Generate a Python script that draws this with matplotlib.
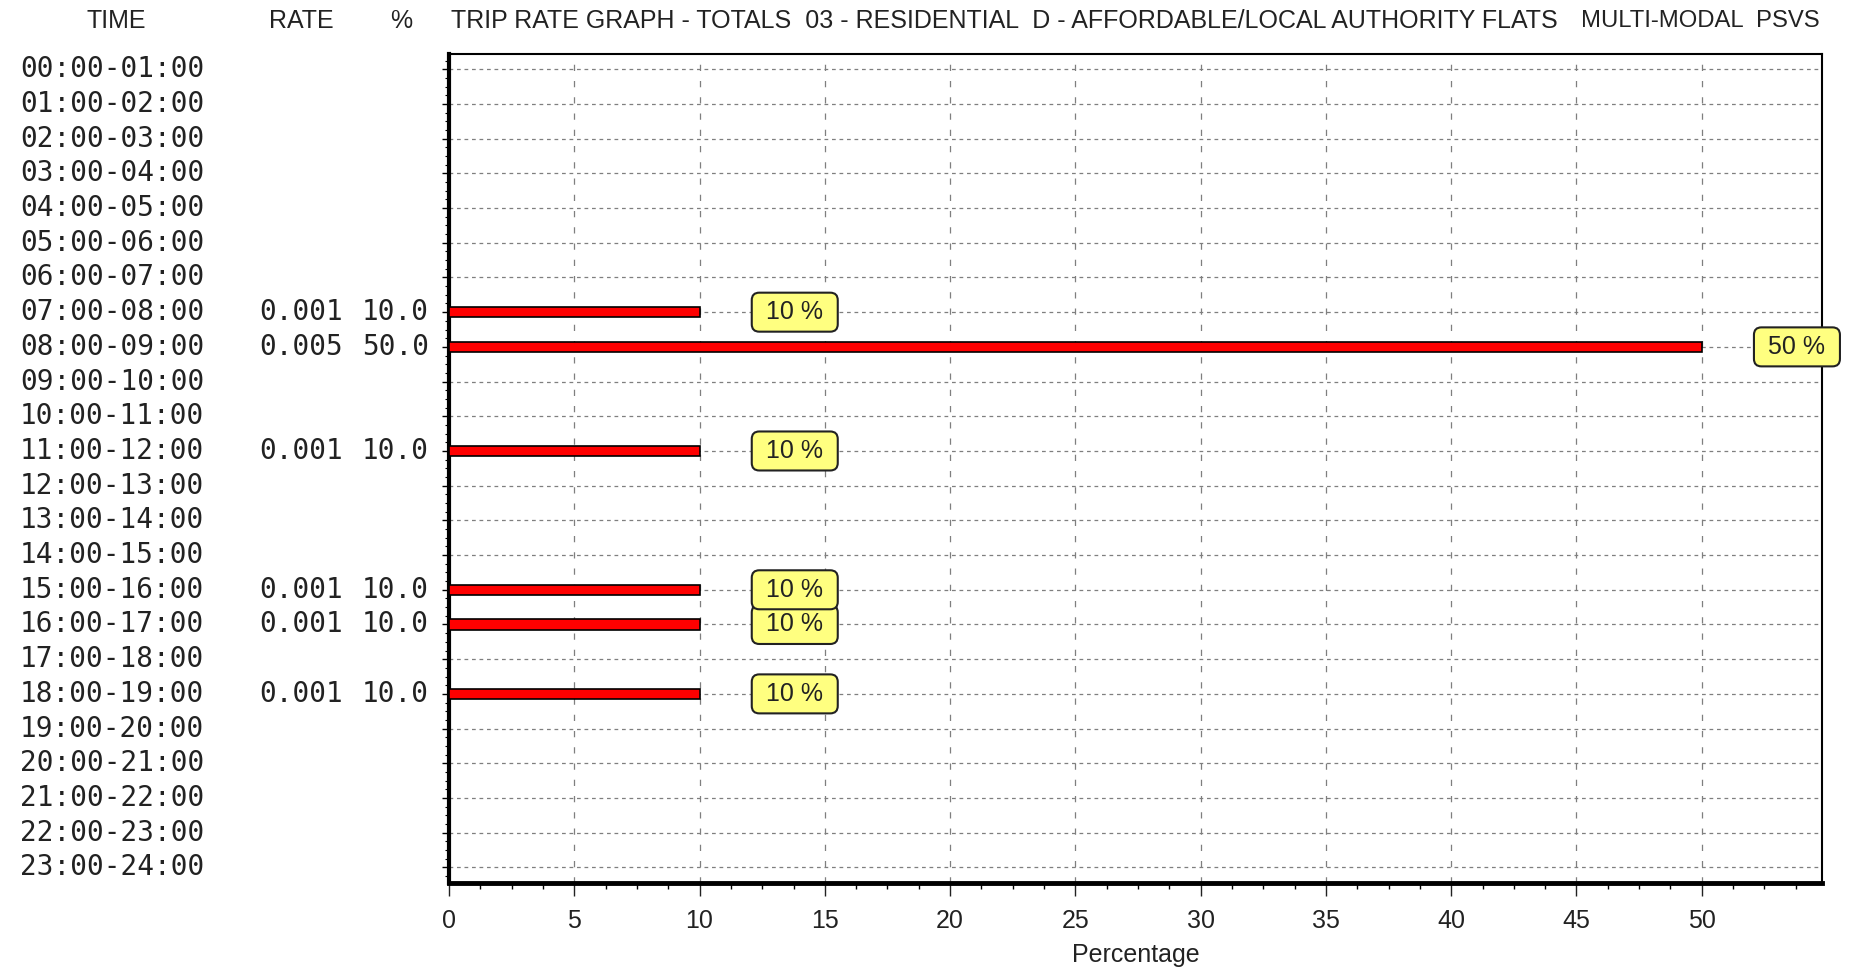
import matplotlib.pyplot as plt
from matplotlib.ticker import MultipleLocator

time_labels = [f"{h:02d}:00-{h + 1:02d}:00" for h in range(24)]
rates = [None, None, None, None, None, None, None, 0.001, 0.005, None, None, 0.001,
         None, None, None, 0.001, 0.001, None, 0.001, None, None, None, None, None]
percents = [None, None, None, None, None, None, None, 10.0, 50.0, None, None, 10.0,
            None, None, None, 10.0, 10.0, None, 10.0, None, None, None, None, None]

title_left = "TRIP RATE GRAPH - TOTALS  03 - RESIDENTIAL  D - AFFORDABLE/LOCAL AUTHORITY FLATS"
title_right = "MULTI-MODAL  PSVS"

W, H = 1868, 968
narrow = ["Liberation Sans Narrow", "Liberation Sans", "DejaVu Sans"]
mono = ["DejaVu Sans Mono"]
ink = "#222222"

fig = plt.figure(figsize=(W / 100, H / 100), dpi=100)
ax_left, ax_right, ax_top, ax_bottom = 449, 1822, 54, 883
ax = fig.add_axes([ax_left / W, 1 - ax_bottom / H,
                   (ax_right - ax_left) / W, (ax_bottom - ax_top) / H])

rows = list(range(len(time_labels)))

# grid
for r in rows:
    ax.axhline(r, color="#7f7f7f", lw=0.9, ls=(0, (3, 3)), zorder=1)
for v in range(5, 55, 5):
    ax.axvline(v, color="#7f7f7f", lw=0.9, ls=(0, (5, 8)), zorder=1)

# bars + labels
for r in reversed(rows):
    p = percents[r]
    if p is None:
        continue
    ax.barh(r, p, height=0.3, left=0, color="#ff0000", edgecolor="black",
            linewidth=1.2, zorder=3)
    ax.text(p + 3.8, r, f" {p:.0f} % ", ha="center", va="center",
            fontsize=18, family=narrow, color=ink, zorder=5 + (24 - r) * 0.01,
            bbox=dict(boxstyle="round,pad=0.3,rounding_size=0.3",
                      facecolor="#ffff80", edgecolor="#222222", linewidth=1.5))

ax.set_xlim(0, 54.8)
ax.set_ylim(23.45, -0.44)

ax.xaxis.set_major_locator(MultipleLocator(5))
ax.xaxis.set_minor_locator(MultipleLocator(1.25))
ax.yaxis.set_major_locator(MultipleLocator(1))
ax.yaxis.set_minor_locator(MultipleLocator(0.25))
ax.tick_params(axis="x", which="major", length=9, width=1, direction="out",
               labelsize=18, pad=10, colors=ink)
ax.tick_params(axis="x", which="minor", length=4, width=1, direction="out")
ax.tick_params(axis="y", which="major", length=5, width=1, labelleft=False)
ax.tick_params(axis="y", which="minor", length=3, width=0.8)
ax.set_xticks(range(0, 55, 5))
for lab in ax.get_xticklabels():
    lab.set_family(narrow)

ax.spines["left"].set_linewidth(3.0)
ax.spines["bottom"].set_linewidth(3.5)
ax.spines["top"].set_linewidth(1.5)
ax.spines["right"].set_linewidth(1.5)

ax.set_xlabel("Percentage", fontsize=18, family=narrow, color=ink, labelpad=7)

# left-hand columns
ytr = ax.get_yaxis_transform()
span = ax_right - ax_left


def ax_x(px):
    return (px - ax_left) / span


for r in rows:
    ax.text(ax_x(204), r, time_labels[r], transform=ytr, ha="right", va="center",
            fontsize=20, family=mono, color=ink, clip_on=False)
    if rates[r] is not None:
        ax.text(ax_x(343), r, f"{rates[r]:.3f}", transform=ytr, ha="right",
                va="center", fontsize=20, family=mono, color=ink, clip_on=False)
        ax.text(ax_x(429), r, f"{percents[r]:.1f}", transform=ytr, ha="right",
                va="center", fontsize=20, family=mono, color=ink, clip_on=False)

# header
hy = 1 - 21 / H
fig.text(116 / W, hy, "TIME", ha="center", va="center", fontsize=18, family=narrow, color=ink)
fig.text(301 / W, hy, "RATE", ha="center", va="center", fontsize=18, family=narrow, color=ink)
fig.text(401 / W, hy, "%", ha="center", va="center", fontsize=18, family=narrow, color=ink)
fig.text(451 / W, hy, title_left, ha="left", va="center", fontsize=18, family=narrow, color=ink)
fig.text(1820 / W, hy, title_right, ha="right", va="center", fontsize=17.2, family=narrow, color=ink)

fig.savefig("out.png", dpi=100, facecolor="white")
